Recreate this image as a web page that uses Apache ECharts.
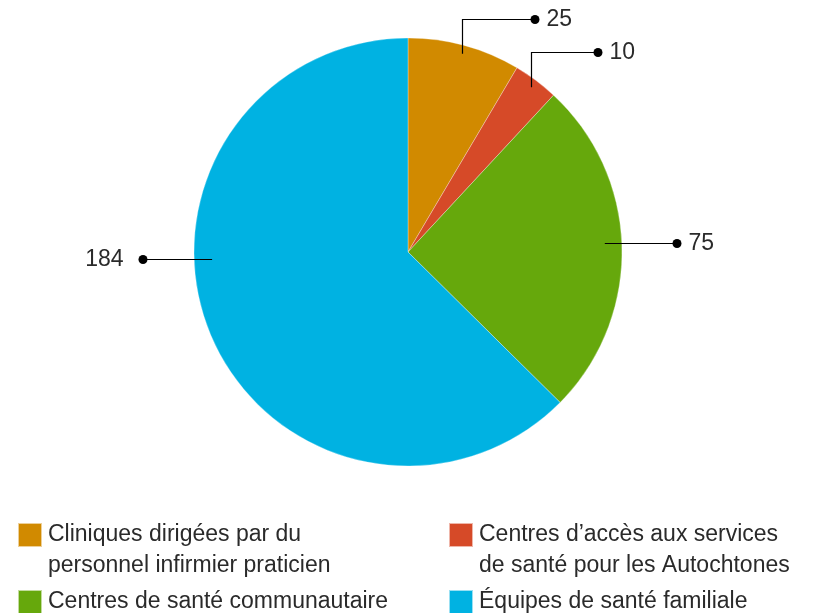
<!DOCTYPE html>
<html>
<head>
<meta charset="utf-8">
<script src="https://cdn.jsdelivr.net/npm/echarts@6/dist/echarts.min.js"></script>
<style>
  html, body { margin: 0; padding: 0; background: #fff; }
  #chart { width: 813px; height: 613px; }
</style>
</head>
<body>
<div id="chart"></div>
<script>
// ---- data ----
const categories = [
  'Cliniques dirigées par du\npersonnel infirmier praticien',
  'Centres d\u2019accès aux services\nde santé pour les Autochtones',
  'Centres de santé communautaire',
  'Équipes de santé familiale'
];
const values = [25, 10, 75, 184];
const colors = ['#D18A00', '#D64A28', '#66A80C', '#00B2E2'];

// ---- layout (pixels) ----
const CX = 408, CY = 252, R = 214;
const FONT = '"Liberation Sans", Arial, sans-serif';

const total = values.reduce((a, b) => a + b, 0);
const midAngles = [];
(function () {
  let acc = 0;
  values.forEach(v => { midAngles.push((acc + v / 2) / total * 2 * Math.PI); acc += v; });
})();

// label guide geometry (relative to the pie centre)
const GUIDE = [
  { type: 'elbow', r: 0.96, cornerY: -233, endX: 127 },
  { type: 'elbow', r: 0.96, cornerY: -200, endX: 190 },
  { type: 'flat', dy: -9, inset: 17, endX: 269 },
  { type: 'flat', dy: 7, inset: 18, endX: -265 }
];

function px(v) { return Math.round(v) + 0.5; }

function guidePoints(i) {
  const g = GUIDE[i];
  if (g.type === 'elbow') {
    const a = midAngles[i];
    const sx = px(CX + g.r * R * Math.sin(a));
    const sy = CY - g.r * R * Math.cos(a);
    const cy = px(CY + g.cornerY);
    return [[sx, sy], [sx, cy], [CX + g.endX, cy]];
  }
  const half = Math.sqrt(R * R - g.dy * g.dy) - g.inset;
  const sx = g.endX > 0 ? CX + half : CX - half;
  const y = px(CY + g.dy);
  return [[sx, y], [sx, y], [CX + g.endX, y]];
}

const chart = echarts.init(document.getElementById('chart'), null, { renderer: 'canvas' });

const legendText = { fontFamily: FONT, fontSize: 23, color: '#2a2a2a', lineHeight: 31, padding: [0, 0, 0, 1] };
function legendFormatter(name) {
  return name.indexOf('\n') >= 0 ? '\n' + name : name;
}

chart.setOption({
  animation: false,
  backgroundColor: '#ffffff',
  color: colors,
  legend: [
    {
      orient: 'vertical', left: 17, top: 488.5, padding: 0,
      itemWidth: 24, itemHeight: 24, itemGap: 5, icon: 'rect',
      data: [categories[0], categories[2]],
      formatter: legendFormatter, textStyle: legendText, selectedMode: false
    },
    {
      orient: 'vertical', left: 448, top: 488.5, padding: 0,
      itemWidth: 24, itemHeight: 24, itemGap: 5, icon: 'rect',
      data: [categories[1], categories[3]],
      formatter: legendFormatter, textStyle: legendText, selectedMode: false
    }
  ],
  series: [{
    type: 'pie',
    center: [CX, CY],
    radius: [0, R],
    startAngle: 90,
    clockwise: true,
    avoidLabelOverlap: false,
    itemStyle: { borderColor: 'rgba(255,255,255,0.6)', borderWidth: 0.5 },
    emphasis: { disabled: true },
    data: categories.map((c, i) => ({ name: c, value: values[i] })),
    label: {
      show: true,
      position: 'outside',
      formatter: function (p) {
        return p.dataIndex === 3 ? '{vl|' + p.value + '}{d|}' : '{d|}{v|' + p.value + '}';
      },
      rich: {
        d: { width: 9, height: 9, borderRadius: 4.5, backgroundColor: '#000' },
        v: { fontFamily: FONT, fontSize: 23, color: '#2a2a2a', padding: [0, 0, 0, 7] },
        vl: { fontFamily: FONT, fontSize: 23, color: '#2a2a2a', padding: [0, 15, 0, 0] }
      }
    },
    labelLine: { show: true, lineStyle: { color: '#000', width: 1.2 } },
    labelLayout: function (params) {
      const i = params.dataIndex;
      const pts = guidePoints(i);
      const end = pts[2];
      const left = end[0] < CX;
      return {
        x: left ? end[0] + 4.5 : end[0] - 4.5,
        y: end[1],
        align: left ? 'right' : 'left',
        verticalAlign: 'middle',
        labelLinePoints: pts
      };
    }
  }]
});

// bring label guide lines above the sectors (reference draws them over the slices)
(function raiseGuides() {
  const zr = chart.getZr();
  zr.storage.traverse(function (el) {
    if (el.getTextGuideLine) {
      const gl = el.getTextGuideLine();
      if (gl) { gl.z = el.z; gl.z2 = 1000; gl.markRedraw(); }
    }
  });
  zr.refreshImmediately();
})();
</script>
</body>
</html>
